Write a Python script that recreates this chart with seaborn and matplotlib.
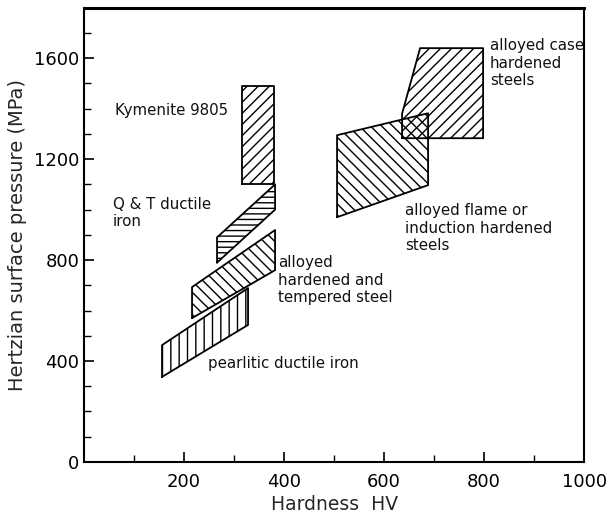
import matplotlib
matplotlib.use("Agg")
import matplotlib.pyplot as plt
import seaborn as sns
import numpy as np
import pandas as pd

# Region vertices (Hardness HV, Hertzian pressure MPa)
kymenite_hv = [316, 316, 380, 380]
kymenite_p = [1100, 1490, 1490, 1100]

qt_ductile_hv = [266, 266, 382, 382]
qt_ductile_p = [790, 890, 1100, 1000]

alloyed_ht_hv = [216, 216, 382, 382]
alloyed_ht_p = [570, 693, 919, 760]

pearlitic_hv = [156, 156, 328, 328]
pearlitic_p = [337, 463, 689, 543]

flame_hv = [506, 506, 688, 688]
flame_p = [970, 1295, 1382, 1097]

case_hv = [636, 636, 672, 798, 798]
case_p = [1283, 1380, 1640, 1640, 1283]

region_hatch = ["///", "---", "\\\\\\", "||", "\\\\\\", "///"]

labels = ["Kymenite 9805", "Q & T ductile\niron", "alloyed\nhardened and\ntempered steel",
          "pearlitic ductile iron", "alloyed case\nhardened\nsteels",
          "alloyed flame or\ninduction hardened\nsteels"]
label_hv = [62, 58, 388, 248, 812, 642]
label_p = [1394, 986, 720, 392, 1580, 927]

x_ticks = [200, 400, 600, 800, 1000]
y_ticks = [0, 400, 800, 1200, 1600]

sns.set_theme(style="ticks")
plt.rcParams["font.family"] = ["DejaVu Sans"]
plt.rcParams["hatch.linewidth"] = 1.0
plt.rcParams["hatch.color"] = "black"

fig = plt.figure(figsize=(6.11, 5.19), dpi=100)
ax = fig.add_axes([0.1375, 0.110, 0.8185, 0.875])

regions = [(kymenite_hv, kymenite_p), (qt_ductile_hv, qt_ductile_p),
           (alloyed_ht_hv, alloyed_ht_p), (pearlitic_hv, pearlitic_p),
           (flame_hv, flame_p), (case_hv, case_p)]

for (hv, p), h in zip(regions, region_hatch):
    ax.fill(hv, p, facecolor="none", edgecolor="black", hatch=h, linewidth=0)
    df = pd.DataFrame({"hv": hv + [hv[0]], "p": p + [p[0]]})
    sns.lineplot(data=df, x="hv", y="p", sort=False, estimator=None,
                 color="black", linewidth=1.3, ax=ax)

for t, x, y in zip(labels, label_hv, label_p):
    ax.text(x, y, t, fontsize=10.8, ha="left", va="center", color="#111111",
            linespacing=1.2)

ax.set_xlim(0, 1000)
ax.set_ylim(0, 1800)
ax.set_xticks(x_ticks)
ax.set_yticks(y_ticks)
ax.set_xticks(np.arange(100, 1000, 200), minor=True)
ax.set_yticks(np.arange(100, 1800, 100), minor=True)
ax.tick_params(which="both", direction="in", colors="black", labelsize=13)
ax.tick_params(which="major", length=7, width=1.2)
ax.tick_params(which="minor", length=5, width=1.0)
ax.tick_params(axis="x", pad=8)
for s in ax.spines.values():
    s.set_color("black")
    s.set_linewidth(1.5)
ax.spines["top"].set_linewidth(2.2)
ax.set_xlabel("Hardness  HV", fontsize=13.5, labelpad=3)
ax.set_ylabel("Hertzian surface pressure (MPa)", fontsize=14, labelpad=5)
ax.grid(False)

fig.savefig("out.png", dpi=100)
